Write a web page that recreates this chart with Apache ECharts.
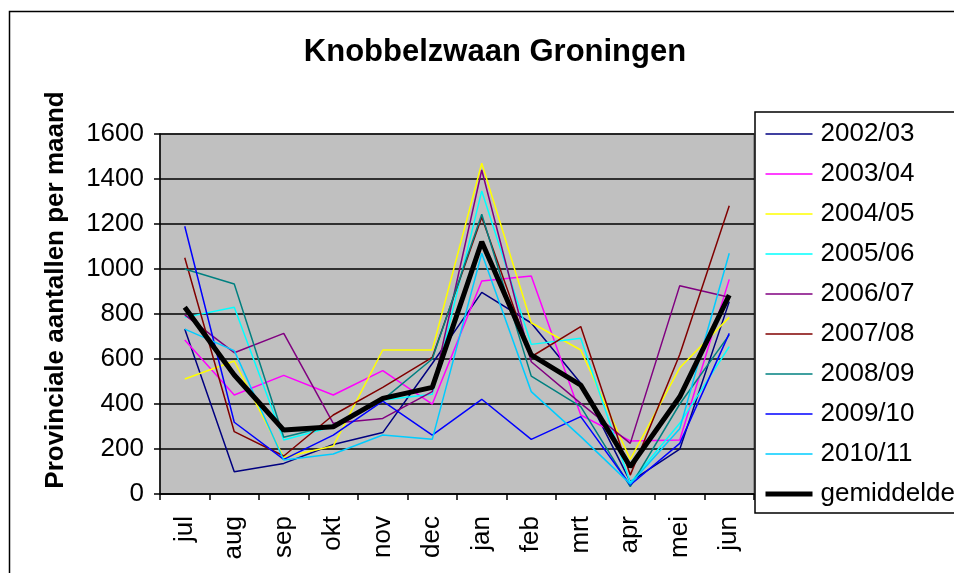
<!DOCTYPE html>
<html>
<head>
<meta charset="utf-8">
<script src="https://cdn.jsdelivr.net/npm/echarts@6/dist/echarts.min.js"></script>
<style>
html,body{margin:0;padding:0;background:#fff;}
#chart{width:954px;height:573px;}
</style>
</head>
<body>
<div id="chart"></div>
<script>
const months = ['jul','aug','sep','okt','nov','dec','jan','feb','mrt','apr','mei','jun'];
const yTicks = [0, 200, 400, 600, 800, 1000, 1200, 1400, 1600];

const s2002 = [733, 99, 136, 220, 273, 580, 896, 760, 492, 55, 199, 855];
const s2003 = [684, 440, 527, 440, 548, 399, 947, 969, 351, 236, 240, 954];
const s2004 = [511, 591, 163, 213, 640, 640, 1470, 761, 640, 154, 561, 785];
const s2005 = [785, 830, 240, 300, 418, 443, 1347, 665, 692, 50, 314, 655];
const s2006 = [796, 628, 714, 314, 336, 455, 1440, 588, 403, 225, 926, 874];
const s2007 = [1050, 277, 169, 351, 474, 607, 1230, 610, 744, 84, 620, 1281];
const s2008 = [1000, 933, 252, 307, 418, 600, 1243, 524, 388, 33, 400, 707];
const s2009 = [1190, 319, 154, 262, 413, 262, 421, 243, 344, 40, 225, 714];
const s2010 = [733, 637, 151, 178, 262, 243, 1070, 455, 255, 45, 290, 1070];
const gemiddelde = [830, 529, 284, 299, 425, 474, 1121, 618, 484, 121, 432, 884];

const seriesNames = ['2002/03','2003/04','2004/05','2005/06','2006/07','2007/08','2008/09','2009/10','2010/11','gemiddelde'];
const seriesData = [s2002, s2003, s2004, s2005, s2006, s2007, s2008, s2009, s2010, gemiddelde];
const seriesColors = ['#000080','#FF00FF','#FFFF00','#00FFFF','#800080','#800000','#008080','#0000FF','#00CCFF','#000000'];

const font = 'Arial, "Liberation Sans", sans-serif';
const chart = echarts.init(document.getElementById('chart'), null, {renderer: 'canvas'});

const lineWidth = n => (n === 'gemiddelde' ? 5 : 1.5);

const series = seriesNames.map((n, i) => ({
  name: n,
  type: 'line',
  data: seriesData[i],
  symbol: 'none',
  showSymbol: false,
  animation: false,
  lineStyle: {color: seriesColors[i], width: lineWidth(n)},
  itemStyle: {color: seriesColors[i]},
  z: n === 'gemiddelde' ? 5 : 2
}));

chart.setOption({
  animation: false,
  backgroundColor: '#ffffff',
  title: {
    text: 'Knobbelzwaan Groningen',
    left: 490,
    top: 32,
    textAlign: 'center',
    textStyle: {fontFamily: font, fontSize: 31, fontWeight: 'bold', color: '#000'}
  },
  graphic: [
    {type: 'rect', shape: {x: 9.5, y: 11.5, width: 1000, height: 1000}, style: {fill: 'none', stroke: '#000', lineWidth: 1.5}, z: 0},
    {type: 'text', x: 56, y: 290, rotation: Math.PI / 2,
     style: {text: 'Provinciale aantallen per maand', fontFamily: font, fontSize: 26, fontWeight: 'bold', fill: '#000', align: 'center', verticalAlign: 'middle'}}
  ],
  legend: {
    orient: 'vertical',
    left: 755,
    top: 112,
    padding: [7, 6, 4, 8],
    itemGap: 10,
    itemWidth: 47,
    itemHeight: 14,
    backgroundColor: '#ffffff',
    borderColor: '#000',
    borderWidth: 1.5,
    borderRadius: 0,
    itemStyle: {opacity: 0},
    data: seriesNames.map(n => ({name: n, lineStyle: {width: lineWidth(n)}})),
    textStyle: {fontFamily: font, fontSize: 26, color: '#000', lineHeight: 30, padding: [0, 0, 0, 3]}
  },
  grid: {
    left: 160, top: 134, right: 200, bottom: 79,
    show: true, backgroundColor: '#C0C0C0', borderColor: '#808080', borderWidth: 1.5,
    containLabel: false
  },
  xAxis: {
    type: 'category',
    data: months,
    boundaryGap: true,
    axisLine: {lineStyle: {color: '#000', width: 1.5}},
    axisTick: {show: true, length: 6, lineStyle: {color: '#000', width: 1.5}},
    axisLabel: {rotate: 90, margin: 22, fontFamily: font, fontSize: 26, color: '#000'},
    splitLine: {show: false}
  },
  yAxis: {
    type: 'value',
    min: yTicks[0],
    max: yTicks[yTicks.length - 1],
    interval: 200,
    axisLine: {show: true, lineStyle: {color: '#000', width: 1.5}},
    axisTick: {show: true, length: 6, lineStyle: {color: '#000', width: 1.5}},
    axisLabel: {margin: 16, fontFamily: font, fontSize: 26, color: '#000', formatter: v => String(v)},
    splitLine: {show: true, lineStyle: {color: '#000', width: 1.5}}
  },
  series: series
});
</script>
</body>
</html>
